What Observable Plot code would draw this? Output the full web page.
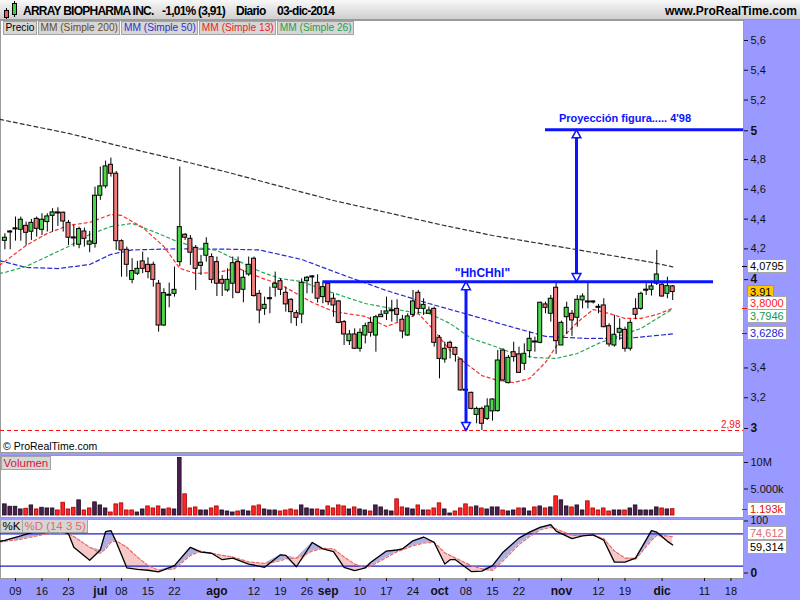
<!DOCTYPE html>
<html><head><meta charset="utf-8">
<script src="https://cdn.jsdelivr.net/npm/d3@7"></script>
<script src="https://cdn.jsdelivr.net/npm/@observablehq/plot@0.6"></script>
<style>
html,body{margin:0;padding:0;background:#fff}
#wrap{position:relative;width:800px;height:600px;background:#9999ff;overflow:hidden;font-family:"Liberation Sans",Arial,Helvetica,sans-serif;color:#000}
.vb{position:absolute;left:747px;height:12px;line-height:12px;font-size:11px;padding:0 2px;background:#fff;border:1px solid #a8a8a8;white-space:pre}
.leg{position:absolute;display:flex}
.leg span{display:block;background:#d6d6d6;border:1px solid #a4a4a4;font-size:10.2px;line-height:12px;height:12px;padding:0 1.5px;margin-right:1px;white-space:pre}
</style></head>
<body><div id="wrap"></div>
<script>
// ================= DATA =================
const ticker = "ARRAY BIOPHARMA INC.";
const period = "Diario";
const lastDateText = "03-dic-2014";
const firstSession = "2014-06-05";
const refDay = "2014-06-09";
const holidays = ["2014-07-04","2014-09-01","2014-11-27"];

const open = [4.254,4.310,4.331,4.328,4.355,4.315,4.402,4.328,4.380,4.422,
4.440,4.443,4.375,4.272,4.228,4.317,4.228,4.234,4.557,4.620,
4.765,4.705,4.252,4.194,3.992,4.033,4.116,4.093,4.093,3.966,
3.685,3.885,3.898,4.111,4.295,4.268,4.207,4.086,4.154,4.145,
4.111,3.992,3.921,3.966,4.111,3.925,4.028,4.134,3.898,3.797,
3.862,3.939,3.983,3.905,3.858,3.768,3.759,3.983,4.008,3.972,
3.876,3.966,3.865,3.847,3.708,3.580,3.625,3.529,3.618,3.703,
3.618,3.741,3.764,3.781,3.797,3.724,3.618,3.757,3.905,3.797,
3.764,3.797,3.603,3.457,3.569,3.535,3.457,3.249,3.233,3.085,
3.125,3.058,3.108,3.110,3.517,3.298,3.506,3.491,3.428,3.513,
3.571,3.569,3.827,3.764,3.939,3.551,3.741,3.764,3.737,3.854,
3.840,3.842,3.804,3.820,3.681,3.551,3.636,3.656,3.529,3.797,
3.797,3.919,3.925,3.966,3.959,3.898,3.948];
const high = [4.302,4.324,4.414,4.414,4.380,4.398,4.414,4.436,4.436,4.470,
4.476,4.447,4.391,4.358,4.346,4.340,4.317,4.615,4.750,4.790,
4.810,4.720,4.261,4.212,4.134,4.116,4.178,4.140,4.111,3.988,
3.932,3.970,4.078,4.750,4.302,4.290,4.223,4.156,4.275,4.167,
4.145,4.021,4.066,4.145,4.145,4.055,4.145,4.145,3.921,3.876,
3.943,4.044,3.999,3.943,3.865,3.786,3.999,4.015,4.021,4.026,
3.972,3.977,3.898,3.854,3.719,3.652,3.663,3.663,3.701,3.741,
3.753,3.786,3.876,3.854,3.858,3.753,3.764,3.921,3.921,3.865,
3.809,3.809,3.618,3.573,3.580,3.540,3.461,3.260,3.237,3.137,
3.137,3.193,3.193,3.517,3.529,3.484,3.573,3.540,3.562,3.641,
3.607,3.842,3.842,3.887,3.970,3.715,3.842,3.786,3.887,3.898,
3.970,3.850,3.827,3.865,3.697,3.753,3.730,3.674,3.724,3.865,
3.909,3.966,3.977,4.190,3.977,4.010,3.954];
const low = [4.194,4.194,4.252,4.252,4.223,4.257,4.279,4.290,4.313,4.313,
4.351,4.313,4.223,4.212,4.201,4.212,4.174,4.205,4.526,4.604,
4.682,4.190,4.010,4.010,3.966,4.021,4.033,3.999,3.943,3.641,
3.679,3.804,3.876,4.082,4.257,4.089,3.921,4.021,4.111,3.966,
3.880,3.880,3.909,3.865,3.898,3.838,4.015,3.876,3.697,3.753,
3.764,3.876,3.887,3.775,3.697,3.679,3.697,3.898,3.898,3.836,
3.831,3.820,3.741,3.697,3.551,3.551,3.524,3.506,3.562,3.607,
3.506,3.741,3.719,3.708,3.708,3.596,3.612,3.741,3.764,3.753,
3.764,3.540,3.327,3.432,3.461,3.439,3.244,3.240,3.119,3.025,
2.980,3.047,3.043,3.103,3.305,3.293,3.439,3.365,3.383,3.466,
3.506,3.562,3.764,3.708,3.491,3.551,3.625,3.612,3.674,3.797,
3.797,3.830,3.764,3.670,3.540,3.540,3.585,3.506,3.513,3.724,
3.786,3.887,3.883,3.954,3.876,3.865,3.853];
const close = [4.275,4.315,4.333,4.396,4.308,4.375,4.335,4.396,4.418,4.445,
4.438,4.384,4.275,4.270,4.333,4.268,4.250,4.557,4.620,4.754,
4.705,4.252,4.190,4.093,4.051,4.066,4.066,4.044,3.992,3.685,
3.903,3.887,3.925,4.346,4.275,4.174,4.066,4.107,4.234,3.992,
3.966,3.966,3.992,4.104,3.905,4.006,4.093,3.883,3.786,3.824,
3.867,3.966,3.925,3.827,3.775,3.737,3.972,4.006,4.011,3.865,
3.943,3.842,3.820,3.703,3.625,3.625,3.529,3.636,3.681,3.636,
3.741,3.757,3.780,3.783,3.757,3.645,3.746,3.847,3.797,3.824,
3.786,3.569,3.461,3.529,3.535,3.488,3.249,3.247,3.125,3.125,
3.025,3.141,3.188,3.450,3.316,3.468,3.473,3.367,3.495,3.596,
3.573,3.838,3.804,3.865,3.580,3.703,3.804,3.719,3.858,3.880,
3.844,3.840,3.806,3.674,3.558,3.623,3.663,3.529,3.703,3.757,
3.898,3.922,3.948,4.028,3.880,3.950,3.910];
// volume in millions of shares
const volume = [2.10,1.65,1.65,1.14,1.27,1.90,1.14,1.46,1.33,1.33,
0.95,2.41,1.14,1.46,2.86,0.95,1.33,2.48,1.90,1.33,
0.57,2.10,2.29,0.95,0.95,0.57,1.14,1.71,1.33,1.71,
1.14,1.33,1.14,10.86,4.00,1.33,1.52,0.95,0.95,1.33,
1.71,0.95,0.76,0.57,0.76,0.95,0.76,1.71,1.90,1.14,
0.95,0.95,0.76,0.95,1.14,0.95,1.90,1.33,1.14,1.14,
0.95,1.71,1.33,1.90,1.71,1.14,1.52,1.14,0.95,0.76,
1.90,1.52,0.95,0.76,3.05,1.52,1.33,1.14,1.90,0.95,
0.95,1.33,2.29,1.14,0.38,0.76,1.33,2.10,1.52,1.71,
1.33,1.14,1.52,1.52,0.95,0.76,0.95,1.33,1.33,0.76,
1.52,1.71,1.33,1.52,3.62,2.86,1.71,1.52,1.90,0.95,
2.67,1.33,0.95,1.33,0.76,0.95,0.95,0.95,1.33,1.90,
0.95,0.95,0.95,1.52,1.33,1.14,1.193];

// moving averages: [session (0 = 9-jun), value]
const sma200 = [[-3,5.07],[-2,5.063],[10,4.976],[20,4.888],[30,4.804],[40,4.715],[50,4.62],[60,4.525],[70,4.445],[80,4.364],[90,4.29],[100,4.23],[110,4.17],[120,4.11],[124,4.0795]];
const sma50 = [[-3,4.12],[-2,4.112],[2,4.075],[8,4.068],[14,4.095],[18,4.163],[22,4.193],[30,4.2],[40,4.198],[46,4.193],[54,4.129],[62,4.022],[70,3.92],[78,3.833],[86,3.753],[94,3.672],[100,3.612],[108,3.598],[116,3.601],[124,3.6286]];
const sma13 = [[-3,4.09],[-2,4.115],[2,4.223],[6,4.304],[10,4.358],[14,4.378],[18,4.431],[20,4.425],[24,4.344],[28,4.216],[31,4.069],[34,4.035],[38,4.042],[42,4.07],[46,4.01],[50,3.96],[56,3.84],[60,3.78],[66,3.746],[70,3.679],[73,3.719],[76,3.766],[79,3.652],[82,3.517],[85,3.43],[88,3.349],[91,3.316],[94,3.302],[97,3.329],[100,3.437],[103,3.598],[106,3.706],[109,3.793],[112,3.766],[115,3.733],[118,3.733],[121,3.759],[124,3.80]];
const sma26 = [[-3,4.035],[-2,4.042],[2,4.082],[6,4.149],[10,4.216],[14,4.297],[18,4.35],[22,4.371],[26,4.317],[30,4.257],[34,4.21],[38,4.19],[42,4.12],[46,4.05],[50,4.0],[54,3.981],[58,3.927],[62,3.88],[66,3.833],[70,3.806],[74,3.78],[78,3.766],[82,3.699],[86,3.598],[90,3.551],[94,3.497],[98,3.47],[102,3.464],[106,3.497],[110,3.565],[114,3.618],[118,3.665],[122,3.753],[124,3.7946]];

// stochastic %K %D (14 3 5)
const stochSession = [-3,-2,1,4,7,10,11,14,16,17,18,19,21,23,25,27,30,33,35,37,39,41,44,47,50,51,53,56,58,60,62,64,66,67,70,72,73,75,77,79,81,82,83,86,88,90,92,95,97,99,101,102,105,107,109,111,113,115,117,120,121,123,124];
const stochK = [66,68,76,85,90,80,55,31,50,84,86,65,17,14,12.5,9.6,21,55,46,44,32,35,24,18,41,40,19,64,52,47,18,12,17,27,48,50,52,67,74,64,24,32,32,10,11,21,46,72,83,92,97,85,71,76,78,68,27.5,27.5,35,86,83,66,59.314];
const stochD = [65,66,70,76,82,80,75,55,44,52,64,67,55,37,21,12.7,15,40,48,44,40,37,28,25,30,34,35,48,53,52,37,24,17,20,36,47,50,58,63,64,45,40,35,21,15,12,30,60,75,87,92,89,77,77,77,71,48,35,33,68,77,76,74.612];

const axisDates = ["2014-06-09","2014-06-16","2014-06-23","2014-07-01","2014-07-08","2014-07-15","2014-07-22","2014-08-01","2014-08-12","2014-08-19","2014-08-26","2014-09-02","2014-09-10","2014-09-17","2014-09-24","2014-10-01","2014-10-08","2014-10-15","2014-10-22","2014-11-03","2014-11-12","2014-11-19","2014-12-01","2014-12-11","2014-12-18"];
const monthNames = ["ene","feb","mar","abr","may","jun","jul","ago","sep","oct","nov","dic"];
const priceTicks = [3.2,3.4,4.2,4.4,4.6,4.8,5.2,5.4,5.6];
const priceTicksMajor = [3,4,5];

// chart pattern annotations (price levels and session positions)
const neckline = {price: 3.98, from: 58, to: 131.7};
const target = {price: 5.0, from: 100, to: 137.4};
const supportLevel = 2.98;
const patternArrow = {session: 85, from: 2.98, to: 3.98, label: "\"HhCHhl\"", labelSession: 88.1, labelPrice: 4.035};
const targetArrow = {session: 105.85, from: 3.98, to: 5.0, label: "Proyección figura..... 4'98", labelSession: 115, labelPrice: 5.077};

// ================= BUILD =================
const wrap = document.getElementById("wrap");
const FONT = '"Liberation Sans", Arial, Helvetica, sans-serif';
function el(css, text, cls) { const e = document.createElement("div"); if (cls) e.className = cls; e.style.cssText = css; if (text != null) e.textContent = text; wrap.appendChild(e); return e; }
const comma = (v, n) => v.toFixed(n).replace(".", ",");

const fmtDay = d3.utcFormat("%Y-%m-%d");
const sessions = d3.utcDays(new Date(firstSession + "T00:00Z"), new Date("2015-01-01T00:00Z"))
  .filter(d => d.getUTCDay() !== 0 && d.getUTCDay() !== 6 && !holidays.includes(fmtDay(d)));
const refPos = sessions.findIndex(d => fmtDay(d) === refDay);
const sessionOf = new Map(sessions.map((d, i) => [fmtDay(d), i - refPos]));

const candles = open.map((o, i) => ({s: i - refPos, o, h: high[i], l: low[i], c: close[i], v: volume[i],
  up: i === 0 ? close[i] >= o : close[i] >= close[i - 1]}));
const stoch = stochSession.map((s, i) => ({s, k: stochK[i], d: stochD[i]}));
const maRows = a => a.map(([s, v]) => ({s, v}));

const xScale = {domain: [-2.83, 137.36], range: [0, 743], label: null};
const baseStyle = {background: "transparent", fontFamily: FONT, fontSize: "11px", overflow: "visible", position: "absolute", left: "0px"};

const triUp = {draw(ctx, size) { const r = Math.sqrt(size / Math.PI), w = r * 1.25, h = r * 2.3; ctx.moveTo(0, 0); ctx.lineTo(w, h); ctx.lineTo(-w, h); ctx.closePath(); }};
const triDown = {draw(ctx, size) { const r = Math.sqrt(size / Math.PI), w = r * 1.25, h = r * 2.3; ctx.moveTo(0, 0); ctx.lineTo(w, -h); ctx.lineTo(-w, -h); ctx.closePath(); }};

const BLUE = "#0a14ff";
const GREEN_BODY = "#4cd64c", RED_BODY = "#ef7b7b";

// ---- main price panel ----
const MAIN_TOP = 20;
const mainPlot = Plot.plot({
  width: 800, height: 432, marginTop: 0, marginBottom: 0, marginLeft: 0, marginRight: 57,
  style: {...baseStyle, top: MAIN_TOP + "px"},
  x: {...xScale, axis: null},
  y: {domain: [3, 5.6], range: [407, 20], label: null},
  marks: [
    Plot.frame({fill: "white", stroke: "#9a9a9a"}),
    Plot.ruleY([supportLevel], {stroke: "#ff1010", strokeWidth: 1.2, strokeDasharray: "4,3"}),
    Plot.text([supportLevel], {x: xScale.domain[1], y: d => d, text: d => comma(d, 2), textAnchor: "end", dx: -3, dy: -6, fill: "#ff1010", fontSize: 10}),
    Plot.line(maRows(sma200), {x: "s", y: "v", stroke: "#303030", strokeWidth: 1.2, strokeDasharray: "4,3", clip: true}),
    Plot.line(maRows(sma50), {x: "s", y: "v", stroke: "#2a2ad0", strokeWidth: 1.2, strokeDasharray: "4,3", clip: true}),
    Plot.line(maRows(sma26), {x: "s", y: "v", stroke: "#22a855", strokeWidth: 1.2, strokeDasharray: "3,3", clip: true}),
    Plot.line(maRows(sma13), {x: "s", y: "v", stroke: "#ff2a2a", strokeWidth: 1.2, strokeDasharray: "3,3", clip: true}),
    Plot.ruleX(candles, {x: "s", y1: "l", y2: "h", stroke: "#000", strokeWidth: 1}),
    Plot.rect(candles, {x1: d => d.s - 0.38, x2: d => d.s + 0.38,
      y1: d => Math.min(d.o, d.c), y2: d => Math.max(d.o, d.c, Math.min(d.o, d.c) + 0.007),
      fill: d => d.c >= d.o ? GREEN_BODY : RED_BODY, stroke: "#000", strokeWidth: 1}),
    Plot.ruleY([neckline], {y: "price", x1: "from", x2: "to", stroke: BLUE, strokeWidth: 3}),
    Plot.ruleY([target], {y: "price", x1: "from", x2: "to", stroke: BLUE, strokeWidth: 3}),
    Plot.ruleX([patternArrow, targetArrow], {x: "session", y1: "from", y2: "to", stroke: BLUE, strokeWidth: 3}),
    Plot.dot([patternArrow, targetArrow], {x: "session", y: "to", symbol: triUp, r: 3.5, fill: "white", stroke: BLUE, strokeWidth: 1.5}),
    Plot.dot([patternArrow, targetArrow], {x: "session", y: "from", symbol: triDown, r: 3.5, fill: "white", stroke: BLUE, strokeWidth: 1.5}),
    Plot.text([patternArrow], {x: "labelSession", y: "labelPrice", text: "label", fill: BLUE, fontWeight: "bold", fontSize: 12}),
    Plot.text([targetArrow], {x: "labelSession", y: "labelPrice", text: "label", fill: BLUE, fontWeight: "bold", fontSize: 11}),
    Plot.axisY({anchor: "right", ticks: priceTicks, tickFormat: v => comma(v, 1), tickSize: 4, tickPadding: 3, color: "#111", fontSize: 11, label: null}),
    Plot.axisY({anchor: "right", ticks: priceTicksMajor, tickFormat: v => String(v), tickSize: 4, tickPadding: 3, color: "#111", fontSize: 12, fontWeight: "bold", dy: 1, label: null})
  ]
});
wrap.appendChild(mainPlot);

// ---- volume panel ----
const VOL_TOP = 455;
const volPlot = Plot.plot({
  width: 800, height: 62, marginTop: 0, marginBottom: 0, marginLeft: 0, marginRight: 57,
  style: {...baseStyle, top: VOL_TOP + "px"},
  x: {...xScale, axis: null},
  y: {domain: [0, 10], range: [60, 7], label: null},
  marks: [
    Plot.frame({fill: "white", stroke: "#9a9a9a"}),
    Plot.rect(candles, {x1: d => d.s - 0.34, x2: d => d.s + 0.34, y1: 0, y2: "v",
      fill: d => d.up ? "#4c1f4e" : "#ff2424", stroke: d => d.up ? "#1a0a1c" : "#a80000", strokeWidth: 0.8}),
    Plot.axisY({anchor: "right", ticks: [5, 10], tickFormat: v => v === 10 ? "10M" : "5.000k", tickSize: 4, tickPadding: 3, color: "#111", fontSize: 11, label: null})
  ]
});
wrap.appendChild(volPlot);

// ---- stochastic panel + date axis ----
const ST_TOP = 519;
const tickSessions = axisDates.map(s => sessionOf.get(s));
const isMonthStart = s => { const i = s + refPos; return i > 0 && sessions[i].getUTCMonth() !== sessions[i - 1].getUTCMonth(); };
const dayTicks = tickSessions.filter(s => !isMonthStart(s));
const monthTicks = tickSessions.filter(s => isMonthStart(s));
const stPlot = Plot.plot({
  width: 800, height: 81, marginTop: 0, marginBottom: 22, marginLeft: 0, marginRight: 57,
  style: {...baseStyle, top: ST_TOP + "px"},
  x: {...xScale},
  y: {domain: [0, 100], range: [57.5, 3.5], label: null},
  marks: [
    Plot.frame({fill: "white", stroke: "#9a9a9a"}),
    Plot.areaY(stoch, {x: "s", y1: "d", y2: d => Math.max(d.k, d.d), fill: "#aeb0e2", clip: true}),
    Plot.areaY(stoch, {x: "s", y1: "d", y2: d => Math.min(d.k, d.d), fill: "#f6c9c9", clip: true}),
    Plot.ruleY([20, 80], {stroke: "#1c1cc8", strokeWidth: 1.2}),
    Plot.line(stoch, {x: "s", y: "d", stroke: "#e86a6a", strokeWidth: 1.2, strokeDasharray: "3,2", clip: true}),
    Plot.line(stoch, {x: "s", y: "k", stroke: "#000", strokeWidth: 1.3, clip: true}),
    Plot.axisY({anchor: "right", ticks: [100], tickFormat: d => String(d), tickSize: 4, tickPadding: 3, dy: -2, color: "#111", fontSize: 10.5, label: null}),
    Plot.axisY({anchor: "right", ticks: [0], tickFormat: d => String(d), tickSize: 4, tickPadding: 3, dy: -4, color: "#111", fontSize: 12, fontWeight: "bold", label: null}),
    Plot.axisX({anchor: "bottom", ticks: dayTicks, tickFormat: s => d3.utcFormat("%d")(sessions[s + refPos]), tickSize: 3, tickPadding: 6, color: "#111", fontSize: 11, label: null}),
    Plot.axisX({anchor: "bottom", ticks: monthTicks, tickFormat: s => monthNames[sessions[s + refPos].getUTCMonth()], tickSize: 3, tickPadding: 5, color: "#111", fontSize: 12, fontWeight: "bold", label: null})
  ]
});
wrap.appendChild(stPlot);

// ---- value boxes on right axes (positioned with the plots' own scales) ----
function valueBox(plot, top, value, text, o = {}) {
  const y = top + plot.scale("y").apply(value);
  if (o.tick) el(`position:absolute;left:742px;top:${Math.round(y)}px;width:5px;height:1px;background:${o.tick}`);
  el(`top:${(y - 7 + (o.shift || 0)).toFixed(1)}px;color:${o.color || "#000"};background:${o.bg || "#fff"};border-color:${o.border || "#a8a8a8"}`, text, "vb");
}
const last = arr => arr[arr.length - 1];
valueBox(mainPlot, MAIN_TOP, last(sma200)[1], comma(last(sma200)[1], 4), {tick: "#000", shift: -0.5});
valueBox(mainPlot, MAIN_TOP, last(close), comma(last(close), 2), {bg: "#ffc800", border: "#c89600"});
valueBox(mainPlot, MAIN_TOP, last(sma13)[1], comma(last(sma13)[1], 4), {color: "#ff1a1a", tick: "#ff1a1a", shift: -4.5});
valueBox(mainPlot, MAIN_TOP, last(sma26)[1], comma(last(sma26)[1], 4), {color: "#129a4c", shift: 7});
valueBox(mainPlot, MAIN_TOP, last(sma50)[1], comma(last(sma50)[1], 4), {color: "#2424d0", tick: "#2424d0", shift: 0});
valueBox(volPlot, VOL_TOP, last(volume), last(volume).toFixed(3) + "k", {color: "#e01010", tick: "#e01010"});
valueBox(stPlot, ST_TOP, last(stochD), comma(last(stochD), 3), {color: "#e06a6a", shift: -3});
valueBox(stPlot, ST_TOP, last(stochK), comma(last(stochK), 3), {shift: 2});

// ---- header ----
el("position:absolute;left:0;top:0;width:800px;height:19px;background:linear-gradient(#f8f8f8,#cfcfcf);border-bottom:1px solid #9a9a9a");
el("position:absolute;left:6px;top:8px;width:1px;height:11px;background:#000");
el("position:absolute;left:4px;top:10px;width:3px;height:6px;background:#e86060;border:1px solid #000");
el("position:absolute;left:14px;top:1px;width:1px;height:16px;background:#000");
el("position:absolute;left:12px;top:3px;width:3px;height:10px;background:#40d040;border:1px solid #000");
const pct = (last(close) / close[close.length - 2] - 1) * 100;
const titleCss = "position:absolute;top:4px;font-size:12px;font-weight:bold;letter-spacing:-0.75px;line-height:14px;white-space:pre";
el(titleCss + ";left:23px", ticker);
el(titleCss + ";left:162px", `${comma(pct, 2)}% (${comma(last(close), 2)})`);
el(titleCss + ";left:236px", period);
el(titleCss + ";left:277px", lastDateText);
el("position:absolute;top:4px;right:3px;font-size:12px;font-weight:bold;line-height:14px;white-space:pre", "www.ProRealTime.com");

// legend row
const leg = el("left:3px;top:21px", null, "leg");
[["Precio", "#000"], ["MM (Simple 200)", "#6b4a22"], ["MM (Simple 50)", "#3030c8"], ["MM (Simple 13)", "#ee2020"], ["MM (Simple 26)", "#20a050"]]
  .forEach(([t, c]) => { const s = document.createElement("span"); s.textContent = t; s.style.color = c; leg.appendChild(s); });
el("position:absolute;left:3px;top:440px;font-size:10.5px;line-height:12px;white-space:pre", "© ProRealTime.com");
const vleg = el("left:1px;top:456px", null, "leg");
{ const s = document.createElement("span"); s.textContent = "Volumen"; s.style.color = "#d8143a"; s.style.fontSize = "11.5px"; vleg.appendChild(s); }
const sleg = el("left:0px;top:519px", null, "leg");
[["%K", "#000"], ["%D (14 3 5)", "#e06a6a"]].forEach(([t, c]) => { const s = document.createElement("span"); s.textContent = t; s.style.color = c; s.style.fontSize = "11.5px"; s.style.marginRight = "-1px"; sleg.appendChild(s); });
</script></body></html>
